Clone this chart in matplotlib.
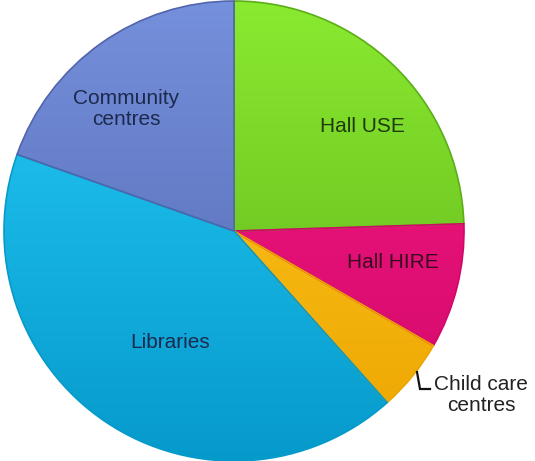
import numpy as np
import matplotlib
matplotlib.use("Agg")
import matplotlib.pyplot as plt
from matplotlib.colors import LinearSegmentedColormap

plt.rcParams['font.family'] = ['Liberation Sans', 'DejaVu Sans']

# share of each service, clockwise from 12 o'clock
categories = ["Hall USE", "Hall HIRE", "Child care\ncentres", "Libraries", "Community\ncentres"]
shares = [24.5, 8.8, 5.1, 42.0, 19.6]

# light (top) / dark (bottom) tone for each slice
tones = [
    ("#8AEA30", "#5CAE18"),
    ("#F81A84", "#D00868"),
    ("#FFCB22", "#EDA500"),
    ("#26CCF8", "#069ACB"),
    ("#7590DC", "#5264AC"),
]
text_colors = ["#1F3A0E", "#3A0A22", "#222222", "#1C2A4E", "#1C2A4E"]

W, H = 535, 461
CX, CY, R = 234, 231, 230  # pie centre and radius in pixels


def px(x, y):
    return (x - CX) / R, (CY - y) / R


fig = plt.figure(figsize=(W / 100, H / 100), dpi=100)
ax = fig.add_axes([0, 0, 1, 1])

wedges, _ = ax.pie(shares, startangle=90, counterclock=False, radius=1.0,
                   colors=[t[0] for t in tones],
                   wedgeprops=dict(linewidth=0))

ax.set_aspect('equal', adjustable='datalim')
ax.axis('off')

grad = np.linspace(0, 1, 256).reshape(-1, 1)
for w, (light, dark) in zip(wedges, tones):
    cmap = LinearSegmentedColormap.from_list("g", [light, dark])
    im = ax.imshow(grad, cmap=cmap, extent=(-1, 1, -1, 1), origin='upper',
                   aspect='auto', zorder=2)
    im.set_clip_path(w)
    # thin bevel around each slice
    w.set_zorder(3)
    w.set_facecolor('none')
    w.set_edgecolor(dark)
    w.set_linewidth(1.2)

# pie() and imshow() reset the limits, so fix them last
ax.set_xlim(-CX / R, (W - CX) / R)
ax.set_ylim(-(H - CY) / R, CY / R)

# slice labels
label_pos = [(362, 127), (393, 263), (481, 395), (170, 342), (126, 109)]
for name, (x, y), c in zip(categories, label_pos, text_colors):
    tx, ty = px(x, y)
    ax.text(tx, ty, name, ha='center', va='center', fontsize=15,
            color=c, linespacing=1.1, zorder=5)

# leader for the small slice
lx, ly = zip(px(417, 372), px(420, 389), px(430, 389))
ax.plot(lx, ly, color='#111111', lw=1.6, zorder=5, solid_joinstyle='miter')

fig.savefig("out.png", dpi=100)
